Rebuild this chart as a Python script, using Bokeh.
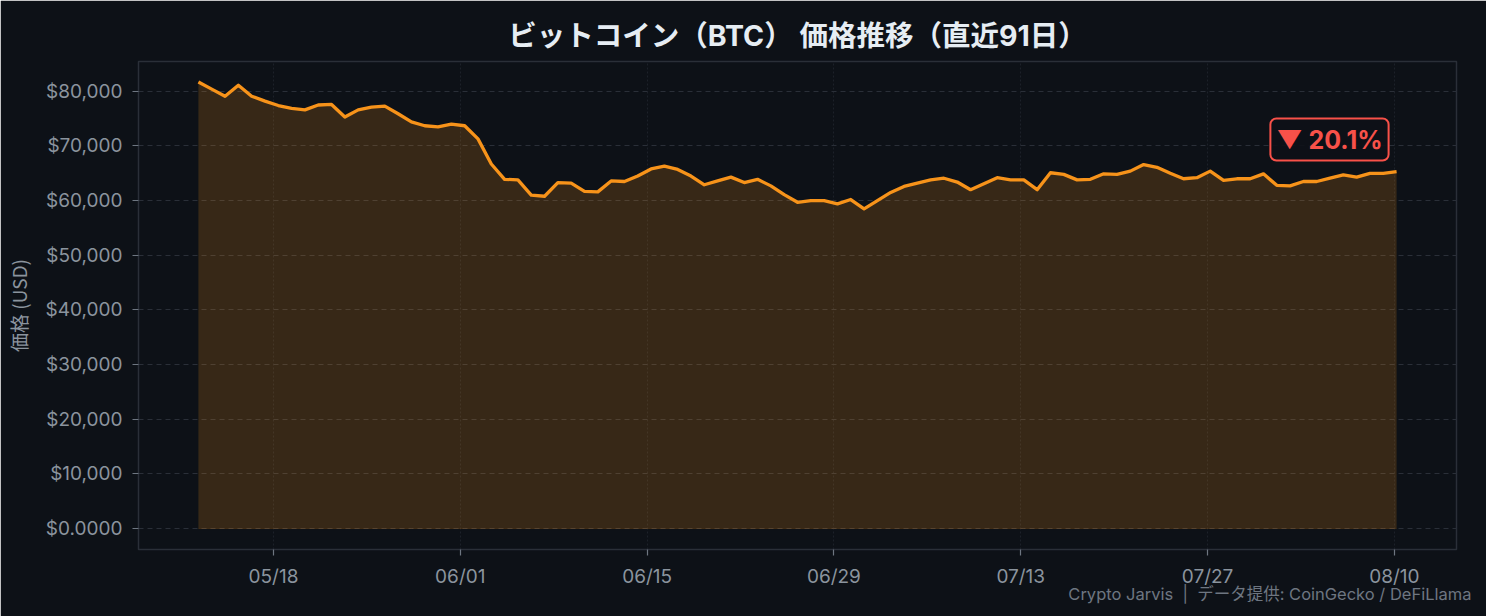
import pandas as pd
from bokeh.plotting import figure
from bokeh.models import (ColumnDataSource, FixedTicker, NumeralTickFormatter,
                          DatetimeTickFormatter, Range1d, Label, Title)
from bokeh.embed import file_html
from bokeh.resources import INLINE

# ---- data ----
start_time = "2025-05-12 09:00"
end_time = "2025-08-10 04:00"
prices = [
    81700, 80400, 79100, 81100, 79100, 78200, 77400, 76900, 76600, 77500,
    77600, 75300, 76600, 77100, 77300, 75900, 74400, 73700, 73500, 74000,
    73700, 71300, 66700, 63900, 63800, 61000, 60800, 63300, 63200, 61700,
    61600, 63600, 63500, 64500, 65800, 66300, 65700, 64500, 62900, 63600,
    64300, 63300, 63900, 62700, 61100, 59700, 60000, 60000, 59400, 60200,
    58500, 60000, 61500, 62600, 63200, 63800, 64100, 63400, 62000, 63100,
    64200, 63800, 63800, 62000, 65100, 64800, 63800, 63900, 64900, 64800,
    65400, 66600, 66100, 65000, 64000, 64200, 65400, 63700, 64000, 64000,
    64900, 62800, 62700, 63500, 63500, 64100, 64700, 64300, 65000, 65000,
    65300,
]
x_tick_dates = ["2025-05-18", "2025-06-01", "2025-06-15", "2025-06-29",
                "2025-07-13", "2025-07-27", "2025-08-10"]
y_ticks = [0, 10000, 20000, 30000, 40000, 50000, 60000, 70000, 80000]
title_text = "ビットコイン（BTC） 価格推移（直近91日）"
y_label = "価格 (USD)"
footer_text = "Crypto Jarvis\u00a0\u00a0|\u00a0\u00a0データ提供: CoinGecko / DeFiLlama"

dates = pd.date_range(start_time, end_time, periods=len(prices))
change_pct = (prices[-1] - prices[0]) / prices[0] * 100
badge = ("▼ " if change_pct < 0 else "▲ ") + f"{abs(change_pct):.1f}%"

BG = "#0d1117"
GRID = "#2a2f38"
TXT = "#8b949e"
ORANGE = "#f7931a"
RED = "#f85149"
FONT = "Inter, 'Noto Sans CJK JP'"
CJK = "'Noto Sans CJK JP'"

src = ColumnDataSource(dict(x=dates, y=prices, base=[0] * len(prices)))

span = (dates[-1] - dates[0])
xpad = span * 0.05
ymax = max(prices)
p = figure(width=1486, height=616, x_axis_type="datetime",
           output_backend="svg", toolbar_location=None,
           x_range=Range1d(dates[0] - xpad, dates[-1] + xpad),
           y_range=Range1d(-ymax * 0.047, ymax * 1.046),
           min_border_left=138, min_border_right=30,
           min_border_top=61, min_border_bottom=67)

p.background_fill_color = BG
p.border_fill_color = BG
p.outline_line_color = GRID
p.outline_line_width = 1.5

p.title.text = title_text
p.title.align = "center"
p.title.vertical_align = "top"
p.title.text_font = FONT
p.title.text_font_style = "bold"
p.title.text_font_size = "28.5px"
p.title.text_color = "#e6edf3"
p.title.offset = 0
p.title.standoff = 14

p.varea(x="x", y1="base", y2="y", source=src, fill_color=ORANGE, fill_alpha=0.18)
p.line(x="x", y="base", source=src, line_color=ORANGE, line_alpha=0.15, line_width=1)
p.line(x="x", y="y", source=src, line_color=ORANGE, line_width=3.3,
       line_join="round")

# axes
p.yaxis.ticker = FixedTicker(ticks=y_ticks)
p.yaxis.formatter = NumeralTickFormatter(format="$0,0")
p.yaxis.major_label_overrides = {0: "$0.0000"}
p.xaxis.ticker = FixedTicker(ticks=[pd.Timestamp(d).value / 1e6 for d in x_tick_dates])
p.xaxis.formatter = DatetimeTickFormatter(days="%m/%d", months="%m/%d")
for ax in (p.xaxis, p.yaxis):
    ax.axis_line_color = None
    ax.major_tick_line_color = "#6e7681"
    ax.major_tick_line_width = 1.2
    ax.major_tick_in = 0
    ax.major_tick_out = 6
    ax.minor_tick_line_color = None
    ax.major_label_text_color = TXT
    ax.major_label_text_font = FONT
    ax.major_label_text_font_size = "19px"
p.yaxis.major_label_standoff = 10
p.xaxis.major_label_standoff = 9
p.yaxis.axis_label = y_label
p.yaxis.axis_label_text_color = TXT
p.yaxis.axis_label_text_font = CJK
p.yaxis.axis_label_text_font_style = "normal"
p.yaxis.axis_label_text_font_size = "19px"
p.yaxis.axis_label_standoff = 11

p.ygrid.grid_line_color = GRID
p.ygrid.grid_line_dash = "5 4"
p.ygrid.grid_line_width = 1
p.xgrid.grid_line_color = "#1c2129"
p.xgrid.grid_line_dash = "2 2"
p.xgrid.grid_line_width = 1

# change badge
p.add_layout(Label(x=dates[-1], y=prices[-1] * 1.09, text=badge,
                   x_offset=-8, anchor="center_right",
                   text_font=FONT, text_font_style="bold",
                   text_font_size="25px", text_color=RED,
                   background_fill_color=BG, background_fill_alpha=0.9,
                   border_line_color=RED, border_line_width=2,
                   border_radius=6, padding=6))

# footer
p.add_layout(Title(text=footer_text, align="right", offset=-15, standoff=-18,
                   text_font=FONT, text_font_size="16.5px",
                   text_font_style="normal", text_color="#6e7681"), "below")

html = file_html(p, INLINE)
html = html.replace("<body>", '<body style="background:#0d1117;">', 1)
open("out.html", "w").write(html)
